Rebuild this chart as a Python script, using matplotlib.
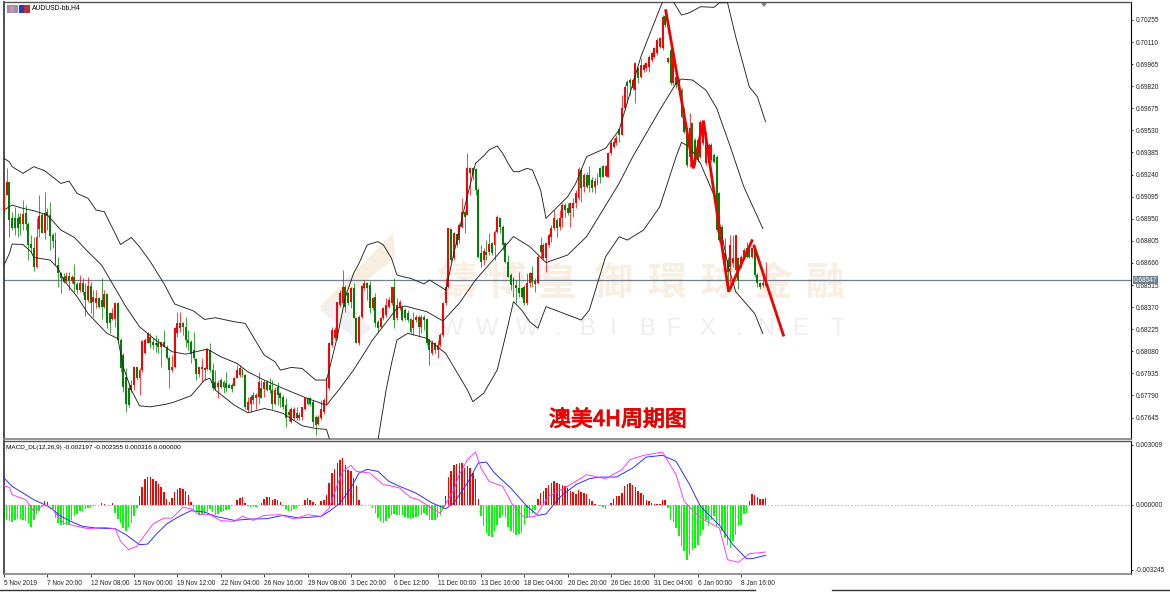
import numpy as np
import matplotlib
matplotlib.use("Agg")
import matplotlib.pyplot as plt
import matplotlib.patheffects as pe
from matplotlib.lines import Line2D
from matplotlib.patches import Polygon, Rectangle

W, H = 1170, 592

# candles, prices in 1e-5 (69105 = 0.69105)
opens = [
    68996,69105,69193,68952,68952,68952,68963,68915,68985,68915,
    68784,68755,68635,68880,68974,68854,68996,68974,68843,68810,
    68646,68591,68569,68543,68574,68543,68569,68521,68482,68525,
    68471,68416,68508,68405,68394,68427,68416,68368,68455,68328,
    68295,68295,68394,68153,68055,67912,67836,67825,67858,67974,
    67902,67956,68066,68136,68171,68142,68131,68131,68110,68142,
    68110,68039,67956,67978,68197,68230,68267,68241,68153,68142,
    68088,68026,67934,67961,67969,67965,68088,67956,67880,67847,
    67891,67880,67869,67858,67858,67851,67902,67923,67956,67923,
    67693,67737,67792,67770,67781,67836,67829,67880,67858,67825,
    67737,67847,67803,67781,67726,67683,67617,67639,67672,67639,
    67650,67704,67770,67770,67748,67650,67602,
    67640,67680,67738,67837,68121,68165,68165,68384,68395,68504,
    68460,68406,68493,68301,68132,68307,68493,68526,68515,68362,
    68438,68274,68241,68296,68318,68373,68395,68504,68296,68362,
    68373,68351,68329,68290,68231,68285,68307,68241,68303,68290,
    68154,68066,68132,68088,68121,68187,68395,68504,68883,68690,
    68850,68811,68898,68997,68975,69248,69281,69275,69139,68723,
    68679,68734,68734,68789,68778,68865,68953,68898,68789,68668,
    68581,68559,68515,68493,68493,68504,68395,68526,68592,68522,
    68526,68778,68690,68690,68778,68832,68887,68942,68898,68953,
    69040,69019,68986,69019,69051,69084,69270,69161,69237,69237,
    69205,69161,69205,69281,69296,69230,69226,69379,69423,69445,
    69537,69500,69675,69850,69861,69806,69795,69937,69883,69926,
    69937,69948,69992,70014,70036,70080,70069,70281,69981,70058,
    69839,69883,69795,69795,69664,69543,69357,69576,69467,69467,
    69357,69445,69313,69434,69335,69368,69357,69116,68897,68635,
    68679,68635,68657,68613,68690,68635,68701,68755,68755,68701,
    68744,68580,68525,68514,68508,
]
closes = [
    69105,69193,68941,68887,68887,68887,68915,68981,68915,68777,
    68755,68635,68827,68968,68854,68985,68968,68836,68806,68646,
    68591,68558,68536,68574,68543,68569,68521,68482,68525,68471,
    68416,68508,68394,68438,68427,68372,68372,68453,68263,68263,
    68328,68394,68153,67967,67847,67737,67726,67858,67978,67902,
    67956,68149,68153,68201,68131,68120,68120,68110,68142,68110,
    68033,67956,67978,68230,68263,68267,68241,68153,68131,68061,
    68033,67934,67974,67974,67956,68092,67956,67836,67842,67873,
    67847,67847,67842,67842,67829,67902,67956,67967,67923,67715,
    67748,67781,67759,67792,67880,67770,67875,67825,67825,67737,
    67825,67792,67770,67715,67639,67661,67698,67704,67639,67661,
    67715,67770,67737,67737,67617,67595,67650,
    67700,67760,67902,68132,68220,68220,68406,68460,68504,68373,
    68395,68493,68296,68132,68307,68509,68526,68493,68362,68428,
    68263,68231,68296,68362,68384,68417,68504,68285,68384,68406,
    68285,68296,68285,68209,68285,68307,68241,68307,68285,68132,
    68088,68132,68088,68121,68187,68395,68504,68887,68679,68854,
    68778,68909,68997,68964,69281,69281,69237,69139,68701,68668,
    68741,68712,68784,68723,68865,68960,68898,68778,68668,68570,
    68515,68515,68493,68460,68438,68395,68526,68592,68537,68544,
    68701,68734,68778,68789,68843,68887,68953,68887,68953,69040,
    69008,68986,69051,69056,69117,69275,69150,69237,69161,69172,
    69150,69200,69187,69226,69226,69296,69379,69445,69456,69478,
    69500,69675,69817,69821,69839,69861,69970,69872,69959,69959,
    69970,70014,70036,70069,70123,70134,70277,70222,70003,69839,
    70025,69828,69861,69620,69521,69303,69543,69292,69313,69335,
    69587,69543,69510,69313,69434,69324,68876,68810,68755,68722,
    68602,68777,68690,68843,68547,68701,68744,68701,68701,68755,
    68580,68525,68503,68525,68525,
]
highs = [
    69116,69281,69193,68996,69029,68985,68985,69073,69040,68930,
    68843,68832,68952,69105,68985,69123,69018,69062,68854,68865,
    68700,68602,68591,68602,68602,68580,68650,68536,68580,68558,
    68525,68565,68536,68482,68482,68438,68558,68482,68460,68339,
    68361,68405,68405,68164,68066,67967,67869,67891,67983,67978,
    67967,68153,68164,68208,68197,68164,68186,68164,68142,68219,
    68120,68048,68055,68241,68339,68339,68274,68306,68219,68153,
    68208,68033,67978,68033,67978,68099,68136,68000,67956,67891,
    67902,67891,67945,67869,67869,67913,67989,67989,67967,67934,
    67781,67792,67814,67803,67945,67891,67891,67891,67902,67891,
    67847,67880,67814,67792,67770,67704,67715,67715,67715,67683,
    67715,67781,67781,67777,67759,67661,67661,
    67760,67771,67913,68143,68241,68241,68406,68482,68614,68515,
    68471,68504,68526,68307,68318,68515,68548,68537,68544,68438,
    68460,68285,68307,68373,68428,68438,68504,68559,68428,68417,
    68384,68362,68351,68296,68340,68318,68318,68318,68318,68296,
    68165,68154,68143,68154,68198,68406,68559,68887,68887,68865,
    68854,68920,69084,69008,69380,69292,69288,69281,69150,68778,
    68756,68811,68854,68800,68876,68975,68964,68909,68800,68712,
    68592,68570,68548,68603,68504,68515,68592,68603,68640,68559,
    68712,68828,68789,68789,68854,68909,69008,68953,69008,69056,
    69056,69051,69062,69084,69139,69288,69281,69248,69259,69297,
    69226,69216,69248,69292,69302,69302,69390,69467,69478,69500,
    69543,69762,69828,69861,69872,69872,69981,69948,70003,69970,
    69981,70025,70047,70080,70134,70145,70287,70320,70014,70062,
    70036,69893,69872,69806,69686,69554,69642,69587,69478,69478,
    69598,69554,69521,69445,69445,69379,69368,69127,68908,68821,
    68700,68843,68843,68843,68701,68711,68755,68799,68766,68766,
    68755,68591,68536,68580,68668,
]
lows = [
    68985,69105,68832,68876,68843,68832,68843,68876,68876,68679,
    68722,68609,68624,68827,68854,68814,68876,68744,68755,68646,
    68499,68464,68525,68525,68482,68530,68471,68460,68471,68449,
    68313,68405,68328,68306,68361,68361,68295,68361,68230,68197,
    68285,68241,68142,67945,67814,67683,67715,67814,67825,67891,
    67792,67945,68061,68131,68099,68092,68077,68066,67978,68110,
    68026,67842,67945,67967,68175,68208,68186,68110,68088,68000,
    68022,67891,67912,67880,67891,67956,67945,67825,67825,67770,
    67836,67803,67814,67836,67814,67851,67902,67912,67912,67704,
    67683,67683,67737,67704,67737,67770,67781,67821,67803,67704,
    67726,67726,67715,67704,67584,67623,67606,67628,67628,67628,
    67628,67693,67726,67720,67584,67529,67595,
    67630,67670,67727,67826,68110,68154,68154,68373,68384,68340,
    68384,68362,68296,68132,68121,68296,68482,68417,68329,68351,
    68241,68198,68231,68285,68307,68362,68384,68231,68285,68351,
    68281,68285,68274,68198,68187,68274,68176,68198,68220,68121,
    67990,68055,68066,68033,68110,68176,68384,68493,68668,68679,
    68767,68789,68887,68854,68975,69106,69205,69106,68690,68631,
    68646,68679,68712,68712,68679,68854,68854,68745,68657,68570,
    68482,68438,68395,68438,68428,68384,68384,68504,68504,68471,
    68522,68690,68679,68603,68767,68800,68876,68832,68876,68898,
    68964,68975,68898,68964,69019,69073,69062,69128,69150,69128,
    69128,69117,69172,69186,69222,69222,69222,69368,69412,69434,
    69456,69500,69664,69707,69762,69795,69707,69839,69872,69915,
    69922,69915,69981,70003,70025,70069,70058,70211,69970,69828,
    69828,69806,69784,69609,69510,69292,69292,69281,69302,69324,
    69346,69434,69302,69302,69324,69313,68865,68799,68700,68613,
    68503,68525,68635,68602,68486,68624,68690,68690,68690,68690,
    68569,68503,68492,68503,68503,
]

# bollinger bands read as (bar, price) vertices
upper_bars = [0,2,3,7,11,15,21,24,27,31,34,37,41,43,47,50,54,59,63,70,74,78,85,89,96,100,102,106,110,115,119,
              120,123,126,129,131,134,138,140,143,145,147,150,155,157,163,166,170,174,177,179,182,184,186,188,190,193,195,198,200,208,211,215,222,227,
              235,243,245,247,250,253,257,262,264,267,270,275,278,281]
upper_vals = [69346,69324,69292,69248,69292,69265,69182,69197,69116,69084,69007,68996,68854,68781,68827,68766,
              68668,68525,68390,68344,68289,68300,68274,68263,68055,68011,67956,67974,67967,67891,67891,
              67957,68176,68438,68592,68657,68778,68800,68778,68690,68581,68570,68559,68522,68548,68482,68723,69029,69314,69362,69402,69428,69380,69314,69259,69259,
              69281,69270,69139,68953,69095,69183,69358,69413,69533,
              70014,70375,70420,70375,70287,70303,70342,70338,70368,70368,70145,69817,69751,69587]
mid_bars = [0,3,7,11,16,21,26,31,36,40,45,50,56,62,67,75,80,86,90,96,103,112,119,
            124,129,136,145,148,156,162,168,174,181,188,194,200,208,215,221,227,
            232,242,248,250,254,259,263,268,273,280]
mid_vals = [69007,69040,69018,69003,68974,68876,68827,68733,68646,68525,68372,68241,68153,68077,68061,68094,
            68044,68000,67945,67891,67836,67770,67726,
            67837,67957,68154,68362,68377,68340,68279,68395,68548,68690,68833,68767,68662,68712,68833,69008,69183,
            69357,69664,69839,69867,69861,69795,69675,69423,69160,68886]
lower_bars = [0,2,3,7,10,11,17,20,22,27,31,38,42,44,47,50,54,60,63,69,74,76,78,85,90,96,99,103,110,115,119,120,
              121,129,138,141,143,145,149,156,163,171,173,177,182,185,188,191,194,197,200,213,216,222,227,
              230,236,242,248,250,253,257,262,267,270,277,280]
lower_vals = [68646,68722,68784,68781,68733,68696,68679,68624,68547,68438,68328,68197,68164,67978,67825,67722,
              67715,67733,67748,67788,67891,67902,67825,67726,67676,67704,67693,67672,67591,67573,67567,67508,
              67460,67200,67497,67826,68001,68154,68198,68165,68066,67826,67749,67804,67957,68176,68406,68351,68274,68231,68373,68285,68351,
              68701,68832,
              68810,68876,69029,69357,69451,69423,69313,69105,68657,68471,68328,68197]

# hand drawn red trend lines
trend1_bars = [244.2,254.4,258.1,267.4,276.0]
trend1_vals = [70316,69281,69594,68471,68806]
trend2_bars = [276.8,287.6]
trend2_vals = [68771,68186]

current_price = 0.68547

price_ticks = [70255,70110,69965,69820,69675,69530,69385,69240,69095,68950,68805,68660,68515,68370,68225,68080,
               67935,67790,67645]

# macd pane, in 1e-6
hist = [
    -633,-750,-833,-883,-767,-733,-700,-750,-833,-917,-1117,-750,-467,-333,-50,200,133,-33,-200,-667,
    -917,-1000,-1000,-1033,-1000,-750,-583,-467,-333,-300,-200,-167,-100,-50,-33,-17,100,33,-17,-50,
    83,-417,-700,-917,-1167,-1333,-1133,-917,-583,-167,433,867,1300,1367,1367,1300,1200,1033,867,633,
    300,133,333,617,783,833,800,667,467,133,-250,-367,-500,-533,-467,-367,-200,-367,-500,-467,
    -367,-333,-250,-200,-67,0,250,333,400,83,-83,-100,-100,-100,-33,83,283,367,383,233,
    300,233,133,-50,-200,-300,-300,-233,-167,-50,0,250,333,233,133,33,-17,167,233,500,
    1083,1583,1800,2083,2250,2333,2000,1750,1667,1333,917,250,-83,-17,-17,-17,-167,-417,-667,-800,
    -917,-800,-667,-500,-467,-500,
    -500,-533,-617,-667,-733,-667,-633,-583,-500,-417,-500,-750,-750,-750,-667,-500,-200,417,1383,1667,
    2000,2033,2067,2083,1833,1917,1833,1583,1300,283,-550,-1083,-1417,-1583,-1617,-1333,-1000,-667,-500,-667,
    -1133,-1333,-1417,-1500,-1467,-1417,-1000,-667,-633,-417,-250,283,600,700,833,1000,1083,1167,1083,1050,
    1000,917,833,700,633,550,717,633,583,550,300,200,33,0,-83,-100,-200,-17,100,267,
    417,433,583,917,1033,1083,1000,867,667,583,500,250,200,100,33,33,33,250,250,-167,
    -750,-867,-1167,-1583,-2083,-2333,-2750,-2500,-2250,-2167,-2000,-1583,-1250,-750,-1033,-750,-583,-1083,-1000,-1333,
    -1667,-2000,-2167,-1833,-1500,-1083,-1000,-467,-417,200,533,500,367,300,300,333,
]
macd_bars = [0,3,7,11,15,17,21,26,29,34,41,45,50,53,56,60,64,69,74,78,85,91,97,103,109,117,120,124,128,131,134,138,142,146,
             152,158,163,166,171,173,175,178,181,187,193,197,200,205,211,216,220,226,232,237,243,248,253,257,264,269,274,276,281]
macd_vals = [1333,917,583,250,0,-133,-583,-917,-1083,-1167,-1200,-1500,-2000,-1967,-1500,-967,-633,-300,-367,-583,-783,
             -717,-700,-533,-667,-583,-333,83,833,1583,1767,1667,1167,917,
             583,83,-200,83,1083,1583,2083,2133,1583,833,-83,-533,-467,367,1000,1300,1383,1383,1833,2383,2467,2167,1000,
             -83,-1033,-2000,-2700,-2700,-2533]
signal_bars = [0,2,3,8,11,15,18,22,26,31,37,41,43,46,49,52,55,59,62,66,69,72,76,80,85,88,92,96,102,107,112,117,120,123,125,128,130,135,140,142,146,
               150,153,158,161,166,168,171,174,176,179,184,188,192,196,201,209,215,222,228,231,236,243,248,251,257,264,267,271,275,281]
signal_vals = [950,867,500,250,-333,0,-250,-917,-1050,-1200,-1133,-1200,-1833,-2250,-2083,-1500,-967,-667,-667,-133,-200,
               -500,-500,-800,-833,-583,-783,-533,-500,-717,-500,-583,-167,1000,1667,1967,1667,1583,1000,967,833,
               367,250,-200,-417,750,1500,2250,2633,1833,1167,917,-83,-633,-583,417,1000,1500,1300,1750,2250,2467,2633,1500,
               167,-667,-1167,-2750,-2883,-2450,-2367]
macd_ticks = [3009,0,-3245]
macd_tick_labels = ["0.003009","0.000000","-0.003245"]

time_labels = ["5 Nov 2019","7 Nov 20:00","12 Nov 08:00","15 Nov 00:00","19 Nov 12:00","22 Nov 04:00",
               "26 Nov 16:00","29 Nov 08:00","3 Dec 20:00","6 Dec 12:00","11 Dec 00:00","13 Dec 16:00",
               "18 Dec 04:00","20 Dec 20:00","26 Dec 16:00","31 Dec 04:00","6 Jan 00:00","8 Jan 16:00"]

plt.rcParams["font.family"] = ["Liberation Sans", "DejaVu Sans"]
LABEL = 4.7
BAR_PX = 2.71
LEFT, RIGHT = 4, 1131
XMAX = (RIGHT - LEFT) / BAR_PX


def px_axes(x0, y0, x1, y1):
    a = fig.add_axes([x0 / W, 1 - y1 / H, (x1 - x0) / W, (y1 - y0) / H])
    a.patch.set_alpha(0)
    return a


fig = plt.figure(figsize=(W / 100, H / 100), dpi=100, facecolor="white")
ax = px_axes(LEFT, 2, RIGHT, 439)
ax2 = px_axes(LEFT, 441, RIGHT, 574)

# watermark behind the chart
tan = "#f8eee2"
for ch, x in zip("鑄博皇御環球金融", [457, 507, 557, 613, 667, 720, 773, 825]):
    fig.text(x / W, 1 - 283 / H, ch, color=tan, fontsize=28, fontweight="bold", ha="center", va="center", zorder=-2,
             family=["Noto Sans CJK TC", "DejaVu Sans"])
for ch, x in zip("WWW.BIBFX.NET", [452, 487, 527, 558, 587, 613, 647, 673, 707, 739, 766, 800, 838]):
    fig.text(x / W, 1 - 329 / H, ch, color="#eeeeee", fontsize=17, ha="center", va="center", zorder=-2)
fig.add_artist(Polygon([(393 / W, 1 - 233 / H), (395 / W, 1 - 258 / H), (350 / W, 1 - 293 / H), (337 / W, 1 - 308 / H),
                        (328 / W, 1 - 312 / H), (319 / W, 1 - 307 / H)], closed=True, fc="#f8eee0", ec="none",
                       transform=fig.transFigure, zorder=-2))
fig.add_artist(Polygon([(320 / W, 1 - 310 / H), (357 / W, 1 - 340 / H), (372 / W, 1 - 328 / H), (336 / W, 1 - 298 / H)],
                       closed=True, fc="#f0f0f0", ec="none", transform=fig.transFigure, zorder=-2))

x = np.arange(len(opens))
o = np.array(opens) / 1e5
c = np.array(closes) / 1e5
h = np.array(highs) / 1e5
l = np.array(lows) / 1e5
up = c >= o
RED, GREEN = "#ff0000", "#008000"

ax.vlines(x[up], l[up], h[up], color=RED, lw=0.65, alpha=0.8, zorder=2)
ax.vlines(x[~up], l[~up], h[~up], color=GREEN, lw=0.65, alpha=0.8, zorder=2)
ax.bar(x[up], (c - o)[up], bottom=o[up], width=0.72, color=RED, lw=0, zorder=3)
ax.bar(x[~up], (o - c)[~up], bottom=c[~up], width=0.72, color=GREEN, lw=0, zorder=3)

for bars, vals in [(upper_bars, upper_vals), (mid_bars, mid_vals), (lower_bars, lower_vals)]:
    ax.plot(bars, np.array(vals) / 1e5, color="#222222", lw=0.65, zorder=4)

ax.axhline(current_price, color="#708090", lw=0.9, zorder=1)
ax.plot(trend1_bars, np.array(trend1_vals) / 1e5, color="#f00000", lw=2.0, zorder=5, solid_joinstyle="miter")
ax.plot(trend2_bars, np.array(trend2_vals) / 1e5, color="#f00000", lw=2.0, zorder=5)

ax.set_xlim(0, XMAX)
ax.set_ylim(0.67504, 0.70373)
ax.set_yticks(np.array(price_ticks) / 1e5)
ax.set_yticklabels(["%.5f" % (p / 1e5) for p in price_ticks])
ax.yaxis.tick_right()
ax.set_xticks([])
ax.tick_params(axis="y", length=1.6, width=0.6, pad=1.5, labelsize=LABEL, colors="#222222")

# macd pane
hv = np.array(hist) / 1e6
hx = np.arange(len(hv))
ax2.bar(hx[hv >= 0], hv[hv >= 0], width=0.55, color="#ff0000", lw=0, zorder=2)
ax2.bar(hx[hv < 0], hv[hv < 0], width=0.55, color="#00ff00", lw=0, zorder=2)
ax2.axhline(0, color="#a8b4c0", lw=0.6, ls=(0, (2, 2)), zorder=1)
ax2.plot(macd_bars, np.array(macd_vals) / 1e6, color="#2020ff", lw=0.65, zorder=3)
ax2.plot(signal_bars, np.array(signal_vals) / 1e6, color="#ff30ff", lw=0.65, zorder=4)
ax2.set_xlim(0, XMAX)
ax2.set_ylim(-0.003465, 0.003185)
ax2.set_yticks(np.array(macd_ticks) / 1e6)
ax2.set_yticklabels(macd_tick_labels)
ax2.yaxis.tick_right()
ax2.set_xticks(np.arange(len(time_labels)) * 16)
ax2.set_xticklabels(time_labels, ha="left")
ax2.tick_params(axis="y", length=1.6, width=0.6, pad=1.5, labelsize=LABEL, colors="#222222")
ax2.tick_params(axis="x", length=2, width=0.6, pad=2.5, labelsize=LABEL, colors="#222222")

for a in (ax, ax2):
    a.spines["right"].set_color("black")
    a.spines["right"].set_linewidth(0.8)
    a.spines["left"].set_color("#404040")
    a.spines["left"].set_linewidth(1.3)
    a.spines["top"].set_color("#555555")
    a.spines["top"].set_linewidth(1.0)
    a.spines["bottom"].set_color("#808080")
    a.spines["bottom"].set_linewidth(1.2)

ax.text(28 / (RIGHT - LEFT), 1 - 6 / 437, "AUDUSD-bb,H4", transform=ax.transAxes,
        fontsize=4.9, color="black", va="center", ha="left")
ax2.text(2 / (RIGHT - LEFT), 1 - 6 / 133, "MACD_DL(12,26,9) -0.002197 -0.002355 0.000316 0.000000",
         transform=ax2.transAxes, fontsize=4.55, color="black", va="center", ha="left")

# current price tag
fig.text(1134 / W, 1 - 280 / H, "0.68547", fontsize=LABEL, color="white", va="center", ha="left", zorder=6,
         bbox=dict(boxstyle="square,pad=0.15", fc="#708090", ec="none"))

# chart title
fig.text(618 / W, 1 - 420 / H, "澳美4H周期图", color="#ee0000", fontsize=15.8, ha="center",
         va="center", family=["Noto Sans CJK SC", "DejaVu Sans"], zorder=6,
         path_effects=[pe.withStroke(linewidth=0.7, foreground="#d80000")])

# window furniture
for (x0, y0, w0, h0, col) in [(7, 5, 11, 8, "#9090c8"), (10, 6, 4, 6, "#e09090"), (19, 5, 5, 8, "#2040c0"),
                              (24, 5, 6, 8, "#c03030")]:
    fig.add_artist(Rectangle((x0 / W, 1 - (y0 + h0) / H), w0 / W, h0 / H, fc=col, ec="none",
                             transform=fig.transFigure, zorder=6))
fig.add_artist(Line2D([0, 755 / W], [1 - 589.5 / H] * 2, color="#333333", lw=1.0))
fig.add_artist(Line2D([832 / W, 1], [1 - 589.5 / H] * 2, color="#333333", lw=1.0))
fig.add_artist(Polygon([(761 / W, 1 - 3 / H), (767 / W, 1 - 3 / H), (764 / W, 1 - 7 / H)], closed=True, fc="#708090",
                       ec="none", transform=fig.transFigure, zorder=6))

fig.savefig("out.png", dpi=100)
